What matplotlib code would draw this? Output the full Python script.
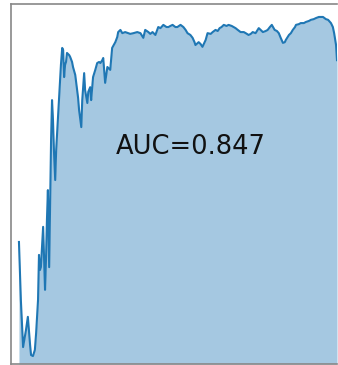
import matplotlib
matplotlib.use("Agg")
import matplotlib.pyplot as plt

# Curve samples (x normalised to 0..1) and the score shown on the plot
x_vals = [
    0.000, 0.006, 0.013, 0.022, 0.028, 0.035, 0.038, 0.044, 0.050, 0.054,
    0.060, 0.063, 0.066, 0.069, 0.073, 0.076, 0.079, 0.082, 0.085, 0.088,
    0.091, 0.095, 0.098, 0.101, 0.104, 0.107, 0.110, 0.114, 0.117, 0.120,
    0.126, 0.132, 0.136, 0.139, 0.142, 0.145, 0.148, 0.151, 0.158, 0.161,
    0.167, 0.170, 0.177, 0.183, 0.186, 0.189, 0.196, 0.199, 0.205, 0.208,
    0.215, 0.218, 0.224, 0.227, 0.233, 0.240, 0.246, 0.252, 0.256, 0.262,
    0.265, 0.271, 0.278, 0.287, 0.293, 0.303, 0.309, 0.312, 0.319, 0.325,
    0.334, 0.344, 0.350, 0.360, 0.372, 0.382, 0.391, 0.397, 0.407, 0.413,
    0.420, 0.429, 0.438, 0.445, 0.454, 0.464, 0.470, 0.476, 0.483, 0.492,
    0.498, 0.508, 0.517, 0.524, 0.530, 0.539, 0.546, 0.552, 0.555, 0.565,
    0.571, 0.577, 0.587, 0.593, 0.603, 0.609, 0.618, 0.625, 0.631, 0.637,
    0.644, 0.653, 0.659, 0.669, 0.675, 0.681, 0.688, 0.697, 0.707, 0.713,
    0.722, 0.729, 0.735, 0.744, 0.754, 0.760, 0.767, 0.776, 0.782, 0.789,
    0.795, 0.804, 0.811, 0.817, 0.823, 0.830, 0.836, 0.839, 0.849, 0.855,
    0.861, 0.868, 0.871, 0.880, 0.886, 0.896, 0.902, 0.912, 0.918, 0.927,
    0.934, 0.943, 0.950, 0.956, 0.965, 0.972, 0.981, 0.987, 0.991, 0.997,
    1.000,
]
y_vals = [
    0.339, 0.178, 0.047, 0.094, 0.131, 0.053, 0.025, 0.022, 0.039, 0.086,
    0.178, 0.303, 0.261, 0.269, 0.331, 0.381, 0.289, 0.206, 0.289, 0.400,
    0.483, 0.269, 0.456, 0.622, 0.733, 0.678, 0.594, 0.511, 0.594, 0.642,
    0.733, 0.831, 0.878, 0.872, 0.797, 0.831, 0.839, 0.864, 0.858, 0.853,
    0.839, 0.825, 0.803, 0.761, 0.739, 0.706, 0.658, 0.733, 0.808, 0.761,
    0.725, 0.756, 0.769, 0.733, 0.797, 0.817, 0.836, 0.839, 0.836, 0.844,
    0.850, 0.781, 0.825, 0.817, 0.878, 0.894, 0.908, 0.922, 0.928, 0.919,
    0.922, 0.919, 0.917, 0.919, 0.922, 0.919, 0.906, 0.928, 0.922, 0.917,
    0.922, 0.914, 0.936, 0.933, 0.942, 0.936, 0.936, 0.939, 0.942, 0.936,
    0.936, 0.942, 0.936, 0.928, 0.919, 0.914, 0.906, 0.894, 0.886, 0.894,
    0.889, 0.881, 0.900, 0.919, 0.917, 0.922, 0.928, 0.925, 0.933, 0.936,
    0.942, 0.939, 0.942, 0.939, 0.936, 0.933, 0.928, 0.922, 0.922, 0.919,
    0.914, 0.917, 0.922, 0.919, 0.933, 0.928, 0.922, 0.925, 0.928, 0.936,
    0.942, 0.928, 0.925, 0.919, 0.906, 0.892, 0.894, 0.900, 0.914, 0.919,
    0.928, 0.936, 0.942, 0.944, 0.947, 0.947, 0.950, 0.953, 0.956, 0.958,
    0.961, 0.964, 0.964, 0.964, 0.958, 0.956, 0.947, 0.936, 0.919, 0.886,
    0.844,
]
auc_value = 0.847

fig = plt.figure(figsize=(3.38, 3.65), dpi=100)
ax = fig.add_axes([11 / 338, 1 / 365, 326 / 338, 360 / 365])

ax.fill_between(x_vals, y_vals, 0, color="#1f77b4", alpha=0.4, linewidth=0)
ax.plot(x_vals, y_vals, color="#1f77b4", linewidth=1.5)

ax.text(0.539, 0.603, f"AUC={auc_value:.3f}", ha="center", va="center",
        fontsize=18.5, color="#111111")

ax.set_xlim(-0.025, 1.0)
ax.set_ylim(0, 1)
ax.set_xticks([])
ax.set_yticks([])
for side in ax.spines.values():
    side.set_color("#888888")
    side.set_linewidth(1.2)
ax.spines["right"].set_visible(False)

fig.savefig("out.png", dpi=100)
